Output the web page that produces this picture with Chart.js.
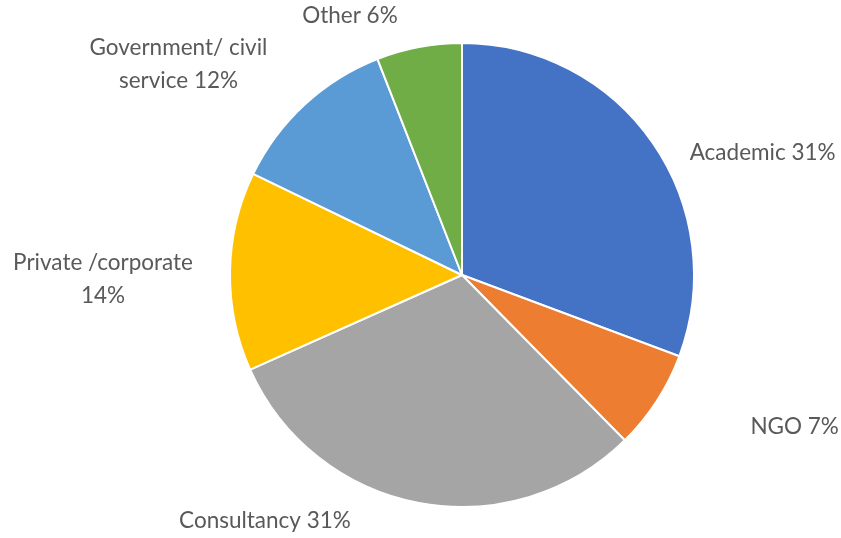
<!DOCTYPE html>
<html>
<head>
<meta charset="utf-8">
<script src="https://cdn.jsdelivr.net/npm/chart.js@4"></script>
<style>
  html, body { margin: 0; padding: 0; background: #ffffff; }
  #wrap { width: 841px; height: 538px; }
</style>
</head>
<body>
<div id="wrap"><canvas id="c" width="841" height="538"></canvas></div>
<script>
// Sectors, clockwise from 12 o'clock
const categories = ['Academic', 'NGO', 'Consultancy', 'Private /corporate', 'Government/ civil service', 'Other'];
const shares = [31, 7, 31, 14, 12, 6];
// Label text lines for each sector (the share is appended from the data)
const labelLines = [
  ['Academic {v}%'],
  ['NGO {v}%'],
  ['Consultancy {v}%'],
  ['Private /corporate', '{v}%'],
  ['Government/ civil', 'service {v}%'],
  ['Other {v}%']
];
const colors = ['#4472C4', '#ED7D31', '#A5A5A5', '#FFC000', '#5B9BD5', '#70AD47'];

// Shift of each label's centre from the rim point at the sector's middle angle
const labelShift = [[110, 10], [138, 25], [-154, 18], [-127, 8], [-126, -40], [-69, -31]];

const outsideLabels = {
  id: 'outsideLabels',
  afterDatasetsDraw(chart) {
    const ctx = chart.ctx;
    const meta = chart.getDatasetMeta(0);
    ctx.save();
    ctx.font = '22.5px Lato, "Open Sans", sans-serif';
    ctx.fillStyle = '#595959';
    ctx.textAlign = 'center';
    ctx.textBaseline = 'middle';
    const lineH = 33;
    meta.data.forEach((arc, i) => {
      const p = arc.getProps(['x', 'y', 'startAngle', 'endAngle', 'outerRadius'], true);
      const mid = (p.startAngle + p.endAngle) / 2;
      const ax = p.x + Math.cos(mid) * p.outerRadius + labelShift[i][0];
      const ay = p.y + Math.sin(mid) * p.outerRadius + labelShift[i][1];
      const lines = labelLines[i].map(s => s.replace('{v}', shares[i]));
      const top = ay - (lines.length - 1) * lineH / 2;
      lines.forEach((t, k) => ctx.fillText(t, ax, top + k * lineH));
    });
    ctx.restore();
  }
};

new Chart(document.getElementById('c'), {
  type: 'pie',
  data: {
    labels: categories,
    datasets: [{
      data: shares,
      backgroundColor: colors,
      borderColor: '#ffffff',
      borderWidth: 2
    }]
  },
  options: {
    responsive: false,
    animation: false,
    layout: { padding: { left: 229, right: 146, top: 42, bottom: 30 } },
    plugins: {
      legend: { display: false },
      tooltip: { enabled: false }
    }
  },
  plugins: [outsideLabels]
});
</script>
</body>
</html>
